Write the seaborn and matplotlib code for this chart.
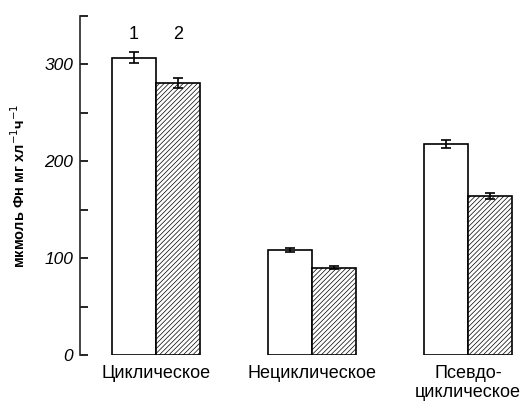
import matplotlib
matplotlib.use("Agg")
import numpy
import pandas
import seaborn as sea
from matplotlib import pyplot

# photosynthetic phosphorylation rates, two variants per type
categories = ["Циклическое", "Нециклическое", "Псевдо-\nциклическое"]
variants = ["1", "2"]
values_1 = [307, 108, 218]
values_2 = [281, 90, 164]
errors_1 = [6, 2, 4]
errors_2 = [5, 1.5, 3]

sea.set_style("ticks")
pyplot.rcParams["font.family"] = ["Liberation Sans", "DejaVu Sans"]
pyplot.rcParams["hatch.linewidth"] = 0.5
pyplot.rcParams["text.color"] = "black"
pyplot.rcParams["axes.labelcolor"] = "black"
pyplot.rcParams["xtick.color"] = "black"
pyplot.rcParams["ytick.color"] = "black"

dataframe = pandas.DataFrame(
    {
        "type": categories * 2,
        "variant": [variants[0]] * 3 + [variants[1]] * 3,
        "value": values_1 + values_2,
        "err": errors_1 + errors_2,
    }
)

figure = pyplot.figure(figsize=(5.25, 4.03), dpi=100)
axis = figure.add_axes([80 / 525, 48 / 403, 445 / 525, 339 / 403])

sea.barplot(
    data=dataframe,
    x="type",
    y="value",
    hue="variant",
    order=categories,
    hue_order=variants,
    palette=["white", "white"],
    edgecolor="black",
    linewidth=1.2,
    width=0.565,
    gap=0,
    errorbar=None,
    legend=False,
    ax=axis,
)

# hatch the second variant and add error bars on each bar
for container, variant in zip(axis.containers, variants):
    sub = dataframe[dataframe["variant"] == variant]
    xs = [bar.get_x() + bar.get_width() / 2 for bar in container]
    if variant == "2":
        for bar in container:
            bar.set_hatch("///////")
    axis.errorbar(
        xs, sub["value"], yerr=sub["err"], fmt="none", ecolor="black",
        elinewidth=1.2, capsize=3.5, capthick=1.2, zorder=5,
    )
    # variant number above the first group
    axis.text(xs[0], 331, variant, ha="center", va="center", fontsize=13)

axis.set_xlim(-0.487, 2.365)
axis.set_ylim(0, 350)
axis.set_yticks(numpy.arange(0, 351, 50))
axis.set_yticklabels(
    ["0", "", "100", "", "200", "", "300", ""], fontstyle="italic", fontsize=12.5
)
axis.tick_params(axis="y", direction="in", length=6, width=1.2, pad=5)
axis.tick_params(axis="x", length=0, labelsize=13, pad=7)
axis.set_xlabel("")
axis.set_ylabel(
    "мкмоль Фн мг хл$^{-1}$ч$^{-1}$", fontweight="bold", fontsize=10.5, labelpad=12
)
for side in ["top", "right", "bottom"]:
    axis.spines[side].set_visible(False)
axis.spines["left"].set_linewidth(1.2)

figure.savefig("out.png", dpi=100)
